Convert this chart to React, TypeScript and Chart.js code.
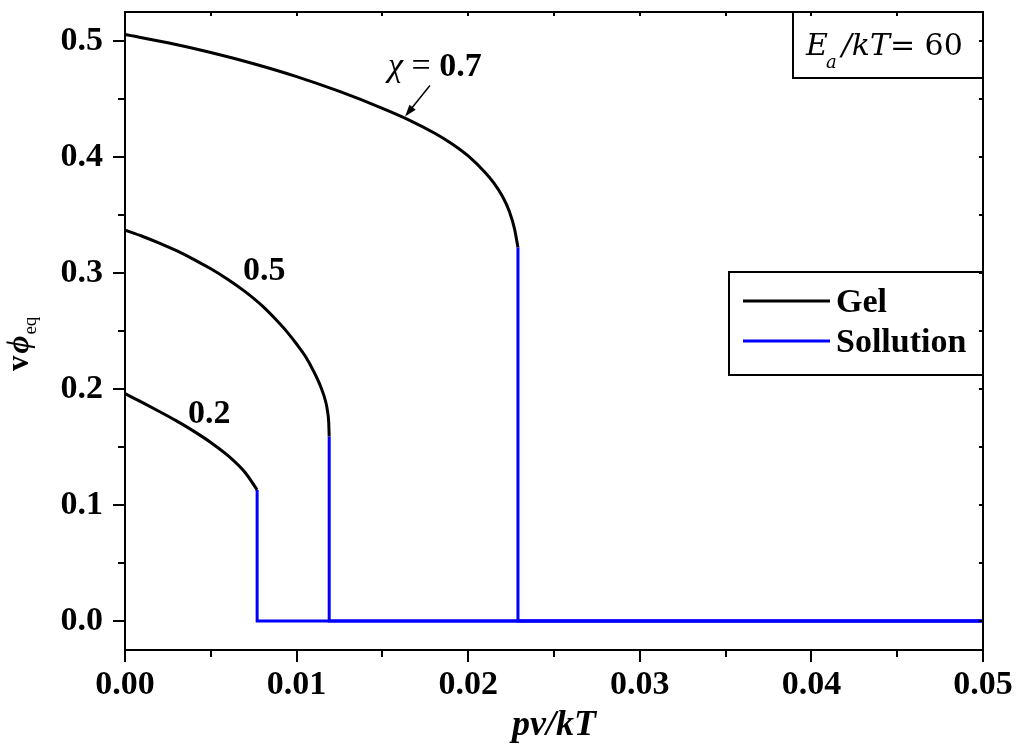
import { useEffect, useRef } from 'react';
import { Chart, registerables } from 'chart.js';

Chart.register(...registerables);

// ---- Axis ranges and ticks ----
const xRange = [0, 0.05];
const yRange = [-0.025, 0.525];
const xTickValues = [0, 0.01, 0.02, 0.03, 0.04, 0.05];
const yTickValues = [0, 0.1, 0.2, 0.3, 0.4, 0.5];
const xMinorStep = 0.005;
const yMinorStep = 0.05;

// ---- Gel branch (black) for chi = 0.2, 0.5, 0.7 ----
const chi02X = [0, 0.001, 0.002, 0.003, 0.004, 0.005, 0.006, 0.007, 0.0077];
const chi02Y = [0.196, 0.1884, 0.1806, 0.1725, 0.1637, 0.1539, 0.1426, 0.128, 0.113];

const chi05X = [0, 0.001, 0.002, 0.003, 0.004, 0.005, 0.006, 0.007, 0.008, 0.009, 0.0095, 0.01, 0.0105, 0.011, 0.0114, 0.0117, 0.0118, 0.01187, 0.0119];
const chi05Y = [0.337, 0.3317, 0.3258, 0.3192, 0.3118, 0.3036, 0.2944, 0.2839, 0.2716, 0.2566, 0.2482, 0.2388, 0.2284, 0.2151, 0.2022, 0.1888, 0.181, 0.1716, 0.1589];

const chi07X = [0, 0.0025, 0.005, 0.0075, 0.01, 0.0125, 0.015, 0.0165, 0.018, 0.019, 0.02, 0.021, 0.0215, 0.022, 0.0224, 0.0227, 0.0229];
const chi07Y = [0.5056, 0.4985, 0.4901, 0.4804, 0.4693, 0.4565, 0.442, 0.4323, 0.4209, 0.4119, 0.4009, 0.3864, 0.3774, 0.3659, 0.3531, 0.3381, 0.322];

// ---- Solution branch (blue): jump points and end of range ----
const solJumpX = [0.0077, 0.0119, 0.0229];
const solJumpTop = [0.113, 0.1589, 0.322];
const solValue = 0;
const solEndX = 0.05;

// ---- Labels ----
const seriesLabels = ['Gel', 'Sollution'];
const seriesColors = ['#000000', '#0000ff'];
const curveLabels = ['0.2', '0.5', '0.7'];
// label anchor positions in data units (left, baseline)
const curveLabelX = [0.00367, 0.00688, 0.01533];
const curveLabelY = [0.1708, 0.2942, 0.4694];
const arrowTail = [0.01777, 0.4616];
const arrowTip = [0.01632, 0.4349];

const FONT = '"Liberation Serif", "Times New Roman", serif';
const BOXFONT = '"DejaVu Serif", serif';
const FS = 34;

const pts = (xs: number[], ys: number[]) => xs.map((x, i) => ({ x, y: ys[i] }));

function drawRuns(ctx: CanvasRenderingContext2D, x: number, y: number, runs: { t: string; f: string; dy?: number; dx?: number }[]) {
  let cx = x;
  for (const r of runs) {
    ctx.font = r.f;
    cx += r.dx || 0;
    ctx.fillText(r.t, cx, y + (r.dy || 0));
    cx += ctx.measureText(r.t).width;
  }
}

const decorPlugin = {
  id: 'decor',
  afterDraw(chart: any) {
    const { ctx, chartArea: a, scales } = chart;
    const xs = scales.x;
    const ys = scales.y;
    ctx.save();
    ctx.strokeStyle = '#000';
    ctx.fillStyle = '#000';
    ctx.lineWidth = 2;
    ctx.lineCap = 'butt';
    // frame
    ctx.strokeRect(a.left, a.top, a.right - a.left, a.bottom - a.top);
    // ticks
    ctx.beginPath();
    const nx = Math.round((xRange[1] - xRange[0]) / xMinorStep);
    for (let k = 0; k <= nx; k++) {
      const v = xRange[0] + k * xMinorStep;
      const px = Math.round(xs.getPixelForValue(v));
      const major = k % 2 === 0;
      ctx.moveTo(px, a.bottom);
      ctx.lineTo(px, a.bottom + (major ? 12 : 7));
      ctx.moveTo(px, a.top);
      ctx.lineTo(px, a.top + 4);
    }
    const ny = Math.round(0.5 / yMinorStep);
    for (let k = 0; k <= ny; k++) {
      const v = k * yMinorStep;
      const py = Math.round(ys.getPixelForValue(v));
      const major = k % 2 === 0;
      ctx.moveTo(a.left, py);
      ctx.lineTo(a.left - (major ? 12 : 7), py);
      ctx.moveTo(a.right, py);
      ctx.lineTo(a.right - 4, py);
    }
    ctx.stroke();

    // curve labels
    ctx.textAlign = 'left';
    ctx.textBaseline = 'alphabetic';
    for (let i = 0; i < 2; i++) {
      ctx.font = `bold ${FS}px ${FONT}`;
      ctx.fillText(curveLabels[i], xs.getPixelForValue(curveLabelX[i]), ys.getPixelForValue(curveLabelY[i]));
    }
    drawRuns(ctx, xs.getPixelForValue(curveLabelX[2]), ys.getPixelForValue(curveLabelY[2]), [
      { t: 'χ', f: `italic ${FS}px ${FONT}` },
      { t: ' = ', f: `${FS}px ${FONT}` },
      { t: curveLabels[2], f: `bold ${FS}px ${FONT}` },
    ]);
    // arrow
    const tx = xs.getPixelForValue(arrowTail[0]);
    const ty = ys.getPixelForValue(arrowTail[1]);
    const hx = xs.getPixelForValue(arrowTip[0]);
    const hy = ys.getPixelForValue(arrowTip[1]);
    const ang = Math.atan2(hy - ty, hx - tx);
    ctx.lineWidth = 1.5;
    ctx.beginPath();
    ctx.moveTo(tx, ty);
    ctx.lineTo(hx - 6 * Math.cos(ang), hy - 6 * Math.sin(ang));
    ctx.stroke();
    ctx.beginPath();
    ctx.moveTo(hx, hy);
    ctx.lineTo(hx - 12 * Math.cos(ang) + 4 * Math.sin(ang), hy - 12 * Math.sin(ang) - 4 * Math.cos(ang));
    ctx.lineTo(hx - 12 * Math.cos(ang) - 4 * Math.sin(ang), hy - 12 * Math.sin(ang) + 4 * Math.cos(ang));
    ctx.closePath();
    ctx.fill();

    // Ea/kT box
    ctx.lineWidth = 2;
    const bx = a.right - 190;
    const by = a.top;
    ctx.strokeRect(bx, by, 190, 66);
    drawRuns(ctx, bx + 13, by + 43, [
      { t: 'E', f: `italic 30px ${BOXFONT}` },
      { t: 'a', f: `italic 18px ${BOXFONT}`, dy: 13, dx: -2 },
      { t: '/kT', f: `italic 30px ${BOXFONT}`, dx: 5 },
      { t: '= 60', f: `30px ${BOXFONT}`, dx: 0 },
    ]);

    // legend
    const lx = a.right - 254;
    const ly = 272;
    ctx.strokeRect(lx, ly, 254, 103);
    ctx.lineWidth = 3;
    for (let i = 0; i < 2; i++) {
      const yy = ly + 29 + i * 40;
      ctx.strokeStyle = seriesColors[i];
      ctx.beginPath();
      ctx.moveTo(lx + 14, yy);
      ctx.lineTo(lx + 101, yy);
      ctx.stroke();
      ctx.font = `bold ${FS}px ${FONT}`;
      ctx.fillStyle = '#000';
      ctx.fillText(seriesLabels[i], lx + 107, yy + 11);
    }

    // x title
    ctx.textAlign = 'center';
    ctx.font = `italic bold 36px ${FONT}`;
    ctx.fillText('pv/kT', (a.left + a.right) / 2, 735);

    // y title
    ctx.textAlign = 'left';
    ctx.translate(28, 371);
    ctx.rotate(-Math.PI / 2);
    drawRuns(ctx, 0, 0, [
      { t: 'v', f: `bold 31px ${FONT}` },
      { t: 'ϕ', f: `italic bold 31px ${FONT}`, dx: 2 },
      { t: 'eq', f: `19px ${FONT}`, dy: 8, dx: 1 },
    ]);
    ctx.restore();
  },
};

export default function App() {
  const ref = useRef<HTMLCanvasElement>(null);
  useEffect(() => {
    document.body.style.margin = '0';
    const common = { showLine: true, pointRadius: 0, borderWidth: 3, fill: false };
    const solSets = solJumpX.map((jx, i) => ({
      ...common,
      label: seriesLabels[1],
      data: [
        { x: jx, y: solJumpTop[i] },
        { x: jx, y: solValue },
        { x: solEndX, y: solValue },
      ],
      borderColor: seriesColors[1],
      backgroundColor: seriesColors[1],
      tension: 0,
    }));
    const gelSets = [pts(chi02X, chi02Y), pts(chi05X, chi05Y), pts(chi07X, chi07Y)].map((d) => ({
      ...common,
      label: seriesLabels[0],
      data: d,
      borderColor: seriesColors[0],
      backgroundColor: seriesColors[0],
      cubicInterpolationMode: 'monotone' as const,
    }));
    const chart = new Chart(ref.current!, {
      type: 'scatter',
      data: { datasets: [...solSets, ...gelSets] as any },
      options: {
        animation: false,
        responsive: false,
        devicePixelRatio: 1,
        layout: { padding: { top: 12, right: 37, left: 0, bottom: 0 } },
        plugins: { legend: { display: false }, tooltip: { enabled: false }, title: { display: false } },
        scales: {
          x: {
            type: 'linear',
            min: xRange[0],
            max: xRange[1],
            grid: { display: false, drawTicks: false },
            border: { display: false },
            afterBuildTicks: (s: any) => {
              s.ticks = xTickValues.map((v) => ({ value: v }));
            },
            afterFit: (s: any) => {
              s.height = 101;
              s.paddingLeft = 0;
              s.paddingRight = 0;
            },
            ticks: {
              color: '#000',
              padding: 15,
              maxRotation: 0,
              font: { family: FONT, size: FS, weight: 'bold' },
              callback: (v: any) => Number(v).toFixed(2),
            },
          },
          y: {
            type: 'linear',
            min: yRange[0],
            max: yRange[1],
            grid: { display: false, drawTicks: false },
            border: { display: false },
            afterBuildTicks: (s: any) => {
              s.ticks = yTickValues.map((v) => ({ value: v }));
            },
            afterFit: (s: any) => {
              s.width = 125;
              s.paddingTop = 0;
              s.paddingBottom = 0;
            },
            ticks: {
              color: '#000',
              padding: 22,
              font: { family: FONT, size: FS, weight: 'bold' },
              callback: (v: any) => Number(v).toFixed(1),
            },
          },
        },
      },
      plugins: [decorPlugin],
    });
    return () => chart.destroy();
  }, []);
  return <canvas ref={ref} width={1020} height={751} style={{ display: 'block', width: 1020, height: 751 }} />;
}
